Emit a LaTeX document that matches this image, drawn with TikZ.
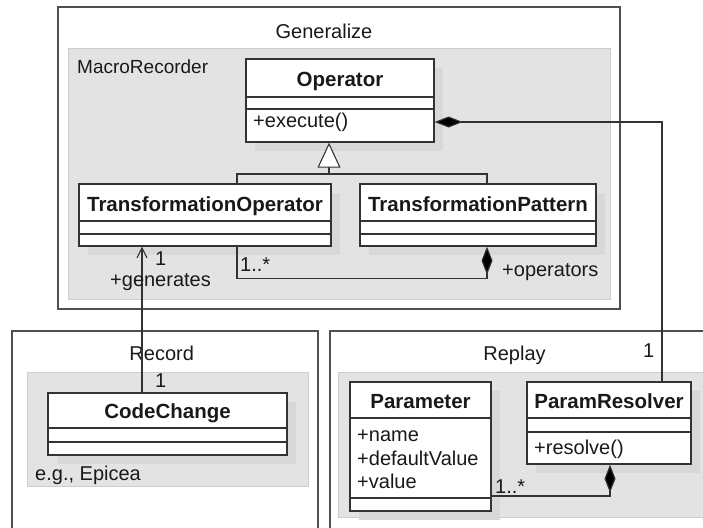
\documentclass[tikz,border=0pt]{standalone}
\usepackage{fontspec}
\setmainfont{Liberation Sans}
\usetikzlibrary{arrows.meta,shadows}
\definecolor{framec}{HTML}{505050}
\definecolor{pkgfill}{HTML}{E3E3E3}
\definecolor{pkgdraw}{HTML}{CDCDCD}
\definecolor{shadowc}{HTML}{D8D8D8}
\definecolor{boxc}{HTML}{333333}
\begin{document}
\begin{tikzpicture}[x=1pt,y=-1pt,
  every node/.style={inner sep=0pt, font=\fontsize{20}{24}\selectfont, text=black!90},
  frame/.style={draw=framec, line width=1.3pt},
  pkg/.style={fill=pkgfill, draw=pkgdraw, line width=1pt},
  classbox/.style={draw=boxc, fill=white, line width=1.3pt, inner sep=0pt,
    general shadow={fill=shadowc, shadow xshift=9pt, shadow yshift=-9pt}},
  boxline/.style={draw=boxc, line width=1.3pt},
  cname/.style={font=\fontsize{20.5}{24}\bfseries\selectfont, anchor=base},
  member/.style={anchor=base west},
  lbl/.style={anchor=base west},
  conn/.style={draw=boxc, line width=1.1pt},
  comp/.style={conn, {Diamond[length=28pt, width=11pt, fill=black]}-},
  gen/.style={conn, -{Triangle[open, length=25pt, width=23pt, fill=white, line width=1.1pt]}},
  nav/.style={conn, -{Straight Barb[length=10pt, width=10pt, line width=1.1pt]}}
]
\clip (0,0) rectangle (703,527);
% ---------- Generalize ----------
\draw[frame] (58,7) rectangle (620,309);
\node[anchor=base] (gtitle) at (324,38) {Generalize};
\draw[pkg] (68,49) rectangle (610,299);
\node[lbl] (mrlabel) at (77,73) {\fontsize{19}{22}\selectfont MacroRecorder};
% ---------- Record ----------
\draw[frame] (12,331) rectangle (318,540);
\node[anchor=base] (rtitle) at (161.7,360) {Record};
\draw[pkg] (27,372) rectangle (308,486);
\node[lbl] (eplabel) at (35,480) {e.g., Epicea};
% ---------- Replay ----------
\draw[frame] (330,331) rectangle (720,540);
\node[anchor=base] (rptitle) at (514.5,360) {Replay};
\draw[pkg] (338,372) rectangle (720,517);

% ---------- classes ----------
\node[classbox, minimum width=188pt, minimum height=83pt] (op) at (340,100.5) {};
\node[cname] (opname) at (340,86) {Operator};
\draw[boxline] (246,97) -- (434,97) (246,109) -- (434,109);
\node[member] (opexec) at (253,127) {+execute()};

\node[classbox, minimum width=252pt, minimum height=62pt] (to) at (205,215) {};
\node[cname] (toname) at (205,211) {TransformationOperator};
\draw[boxline] (79,221) -- (331,221) (79,234) -- (331,234);

\node[classbox, minimum width=236pt, minimum height=62pt] (tp) at (478,215) {};
\node[cname] (tpname) at (478,211) {TransformationPattern};
\draw[boxline] (360,221) -- (596,221) (360,234) -- (596,234);

\node[classbox, minimum width=239pt, minimum height=62pt] (cc) at (167.5,424) {};
\node[cname] (ccname) at (167.5,418) {CodeChange};
\draw[boxline] (48,428) -- (287,428) (48,442) -- (287,442);

\node[classbox, minimum width=141pt, minimum height=129pt] (par) at (420.5,446.5) {};
\node[cname] (parname) at (420.5,408) {Parameter};
\draw[boxline] (350,418) -- (491,418) (350,498) -- (491,498);
\node[member] (pname) at (357,441) {+name};
\node[member] (pdef) at (357,465) {+defaultValue};
\node[member] (pval) at (357,488) {+value};

\node[classbox, minimum width=164pt, minimum height=82pt] (pr) at (609,423) {};
\node[cname] (prname) at (609,408) {ParamResolver};
\draw[boxline] (527,418) -- (691,418) (527,432) -- (691,432);
\node[member] (prres) at (534,454) {+resolve()};

% ---------- connectors ----------
\coordinate (genj) at (329,174);
\draw[gen] ([xshift=32pt]to.north) |- (genj) -- ([xshift=-11pt]op.south);
\draw[conn] ([xshift=9pt]tp.north) |- (genj);

\draw[comp] ([xshift=9pt]tp.south) -- ++(0,32) -| ([xshift=32pt]to.south);
\node[lbl] (m1) at (240,271) {1..*};
\node[lbl] (roleops) at (502,276) {+operators};

\draw[nav] ([xshift=-25.5pt]cc.north) -- ([xshift=-63pt]to.south);
\node[lbl] (m2) at (155,265.5) {1};
\node[lbl] (rolegen) at (110,286) {+generates};
\node[lbl] (m3) at (155,387) {1};

\draw[comp] ([yshift=-21.5pt]op.east) -| ([xshift=53pt]pr.north);
\node[lbl] (m4) at (643,357) {1};

\draw[comp] ([xshift=1pt]pr.south) |- ([yshift=-49.5pt]par.east);
\node[lbl] (m5) at (495,493) {1..*};
\end{tikzpicture}
\end{document}
